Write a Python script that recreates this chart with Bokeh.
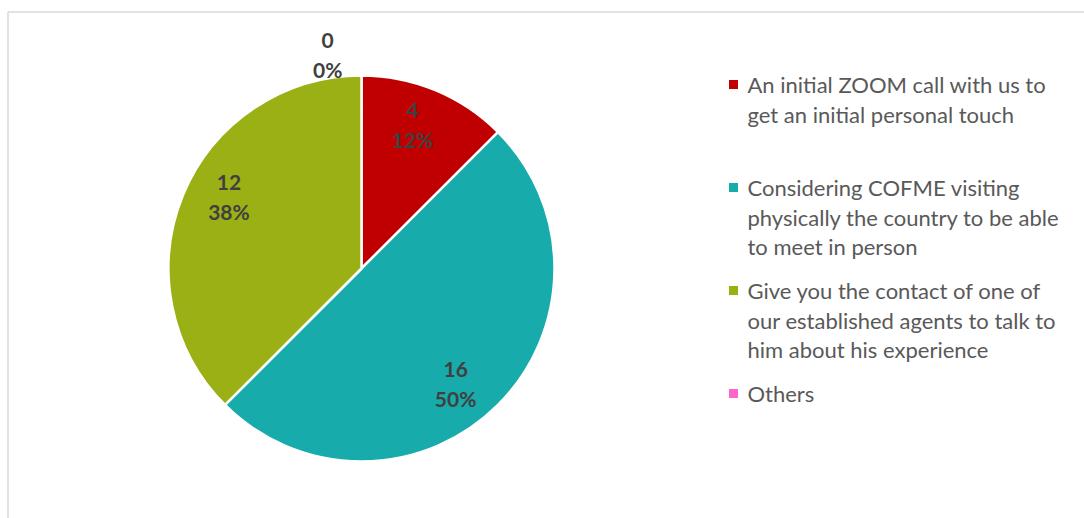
import math
from bokeh.plotting import figure
from bokeh.models import Range1d, ColumnDataSource
from bokeh.core.properties import value
from bokeh.embed import file_html
from bokeh.resources import INLINE

categories = [
    "An initial ZOOM call with us to get an initial personal touch",
    "Considering COFME visiting physically the country to be able to meet in person",
    "Give you the contact of one of our established agents to talk to him about his experience",
    "Others",
]
legend_lines = [
    ["An initial ZOOM call with us to", "get an initial personal touch"],
    ["Considering COFME visiting", "physically the country to be able", "to meet in person"],
    ["Give you the contact of one of", "our established agents to talk to", "him about his experience"],
    ["Others"],
]
counts = [4, 16, 12, 0]
colors = ["#C00000", "#17ABAB", "#9BB015", "#FF66CC"]

W, H = 1084, 518
FONT = "Lato"
p = figure(width=W, height=H, x_range=Range1d(0, W), y_range=Range1d(0, H),
           output_backend="svg", toolbar_location=None, min_border=0)
p.axis.visible = False
p.grid.visible = False
p.outline_line_color = None
p.background_fill_color = "white"
p.border_fill_color = "white"

# chart area border (top and left visible)
p.line(x=[7.5, 7.5, W + 5], y=[-5, H - 11.5, H - 11.5], line_color="#D9D9D9", line_width=1.5)

cx, cy, r = 361, H - 268, 193
total = sum(counts)
starts, ends, wcols = [], [], []
all_mids = []
a = math.pi / 2
for c, col in zip(counts, colors):
    span = 2 * math.pi * c / total
    all_mids.append(a - span / 2)
    if c > 0:
        starts.append(a)
        ends.append(a - span)
        wcols.append(col)
    a -= span

src = ColumnDataSource(dict(start=starts, end=ends, color=wcols))
p.wedge(x=cx, y=cy, radius=r, start_angle="start", end_angle="end", direction="clock",
        fill_color="color", line_color="white", line_width=2.5, source=src)

# data labels (best-fit style placement tweaks)
angle_tweak = [3.0, -5.7, -5.8, 9.0]
dist_frac = [0.79, 0.77, 0.78, 1.12]
lx, ly, lt = [], [], []
for c, m, t, f in zip(counts, all_mids, angle_tweak, dist_frac):
    pct = f"{round(100 * c / total)}%"
    ang = m + math.radians(t)
    dist = r * f
    x = cx + dist * math.cos(ang)
    y = cy + dist * math.sin(ang)
    lx += [x, x]
    ly += [y + 14.5, y - 14.5]
    lt += [str(c), pct]
p.text(x=lx, y=ly, text=lt, text_font=value(FONT), text_font_style="bold",
       text_font_size="21px", text_color="#404040", text_align="center", text_baseline="middle")

# legend
line_h = 29.5
entry_h = 103
y0 = H - 84
mx, my, tx, ty, tt = [], [], [], [], []
for k, lines in enumerate(legend_lines):
    y = y0 - k * entry_h
    mx.append(733)
    my.append(y)
    for i, ln in enumerate(lines):
        tx.append(747)
        ty.append(y - i * line_h)
        tt.append(ln)
p.scatter(x=mx, y=my, marker="square", size=9, fill_color=colors, line_color=None)
p.text(x=tx, y=ty, text=tt, text_font=value(FONT), text_font_size="22px",
       text_color="#595959", text_align="left", text_baseline="middle")

open("out.html", "w").write(file_html(p, INLINE))
